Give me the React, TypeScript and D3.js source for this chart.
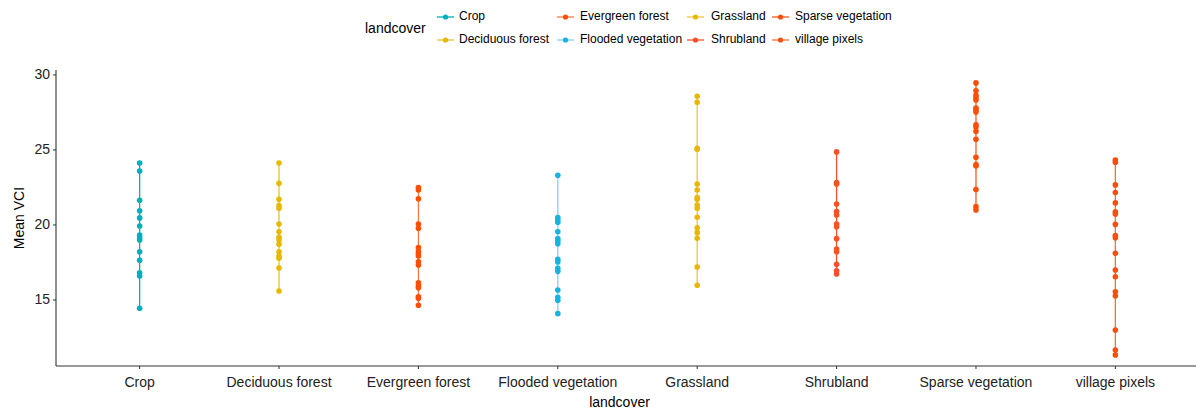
import React from "react";
import * as d3 from "d3";

const categories = [
  "Crop",
  "Deciduous forest",
  "Evergreen forest",
  "Flooded vegetation",
  "Grassland",
  "Shrubland",
  "Sparse vegetation",
  "village pixels",
];

const colors = ["#00AFBB", "#E7B800", "#FC4E07", "#14B4E0", "#E7B800", "#F9502A", "#FC4E07", "#FC4E07"];
const lineColors = ["#00AFBB", "#EBC232", "#FD7A45", "#7ED4EE", "#EBC640", "#F9502A", "#FC5A17", "#FD6E33"];

const cropVals = [24.13, 23.6, 21.65, 20.95, 20.47, 19.93, 19.33, 19.15, 19.0, 18.22, 17.65, 16.82, 16.6, 14.45];
const deciduousVals = [24.13, 22.78, 21.71, 21.29, 21.11, 20.07, 19.55, 19.18, 19.0, 18.71, 18.22, 17.93, 17.78, 17.13, 15.6];
const evergreenVals = [22.49, 22.33, 21.75, 20.07, 19.78, 18.49, 18.22, 18.07, 17.93, 17.55, 17.33, 16.15, 15.95, 15.82, 15.22, 15.11, 14.65];
const floodedVals = [23.31, 20.49, 20.33, 20.18, 19.55, 19.09, 18.93, 18.75, 17.71, 17.53, 17.11, 16.91, 15.67, 15.18, 14.98, 14.09];
const grasslandVals = [28.58, 28.18, 25.11, 25.04, 22.73, 22.33, 21.82, 21.71, 21.33, 21.11, 20.51, 19.82, 19.49, 19.11, 17.2, 15.98];
const shrublandVals = [24.87, 22.82, 22.73, 21.4, 20.89, 20.67, 20.07, 19.89, 19.09, 18.4, 18.22, 17.38, 16.95, 16.73];
const sparseVals = [29.47, 28.95, 28.65, 28.47, 28.33, 27.8, 27.67, 27.53, 26.67, 26.53, 26.24, 25.71, 24.51, 24.02, 23.93, 22.36, 21.22, 21.0];
const villageVals = [24.33, 24.18, 22.67, 22.16, 21.47, 20.87, 20.73, 20.04, 19.29, 19.15, 18.11, 17.0, 16.55, 15.55, 15.27, 13.0, 11.67, 11.33];

const seriesVals = [cropVals, deciduousVals, evergreenVals, floodedVals, grasslandVals, shrublandVals, sparseVals, villageVals];

const yTicks = [15, 20, 25, 30];

const FONT = "'Liberation Sans', Arial, sans-serif";

export default function App() {
  const W = 1196;
  const H = 412;
  const left = 56;
  const right = 1199;
  const top = 70;
  const bottom = 366;

  const x = d3.scalePoint<string>().domain(categories).range([left, right]).padding(0.6);
  const y = d3.scaleLinear().domain([10.6, 30.33]).range([bottom, top]);

  const legendCols = [
    { keyX: 437, textX: 459 },
    { keyX: 557, textX: 580 },
    { keyX: 687, textX: 711 },
    { keyX: 772, textX: 795 },
  ];
  const legendRows = [17, 40];

  return (
    <svg
      width={W}
      height={H}
      style={{ position: "absolute", left: 0, top: 0, background: "#fff" }}
      fontFamily={FONT}
    >
      {/* legend */}
      <text x={365} y={29} fontSize={14} dominantBaseline="middle" fill="#000">
        landcover
      </text>
      {categories.map((c, i) => {
        const col = legendCols[Math.floor(i / 2)];
        const ry = legendRows[i % 2];
        return (
          <g key={c}>
            <line x1={col.keyX} x2={col.keyX + 17} y1={ry} y2={ry} stroke={lineColors[i]} strokeWidth={1.3} />
            <circle cx={col.keyX + 8.5} cy={ry} r={2.6} fill={colors[i]} />
            <text x={col.textX} y={ry} fontSize={12} dominantBaseline="middle" fill="#000">
              {c}
            </text>
          </g>
        );
      })}

      {/* series */}
      {categories.map((c, i) => {
        const vals = seriesVals[i];
        const cx = x(c) as number;
        const ext = d3.extent(vals) as [number, number];
        return (
          <g key={c}>
            <line x1={cx} x2={cx} y1={y(ext[0])} y2={y(ext[1])} stroke={lineColors[i]} strokeWidth={1.3} />
            {vals.map((v, j) => (
              <circle key={j} cx={cx} cy={y(v)} r={2.8} fill={colors[i]} />
            ))}
          </g>
        );
      })}

      {/* axes */}
      <line x1={left} x2={left} y1={top} y2={bottom} stroke="#333" strokeWidth={1.1} />
      <line x1={left} x2={W} y1={bottom} y2={bottom} stroke="#333" strokeWidth={1.1} />
      {yTicks.map((t) => (
        <g key={t}>
          <line x1={left - 3} x2={left} y1={y(t)} y2={y(t)} stroke="#333" />
          <text x={left - 6} y={y(t)} fontSize={14} textAnchor="end" dominantBaseline="middle" fill="#222">
            {t}
          </text>
        </g>
      ))}
      {categories.map((c) => (
        <g key={c}>
          <line x1={x(c)} x2={x(c)} y1={bottom} y2={bottom + 3} stroke="#333" />
          <text x={x(c)} y={bottom + 17} fontSize={14} textAnchor="middle" dominantBaseline="middle" fill="#222">
            {c}
          </text>
        </g>
      ))}
      <text x={(left + 1183) / 2} y={403} fontSize={14} textAnchor="middle" dominantBaseline="middle" fill="#000">
        landcover
      </text>
      <text
        transform={`translate(20, ${(top + bottom) / 2}) rotate(-90)`}
        fontSize={14}
        textAnchor="middle"
        dominantBaseline="middle"
        fill="#000"
      >
        Mean VCI
      </text>
    </svg>
  );
}
